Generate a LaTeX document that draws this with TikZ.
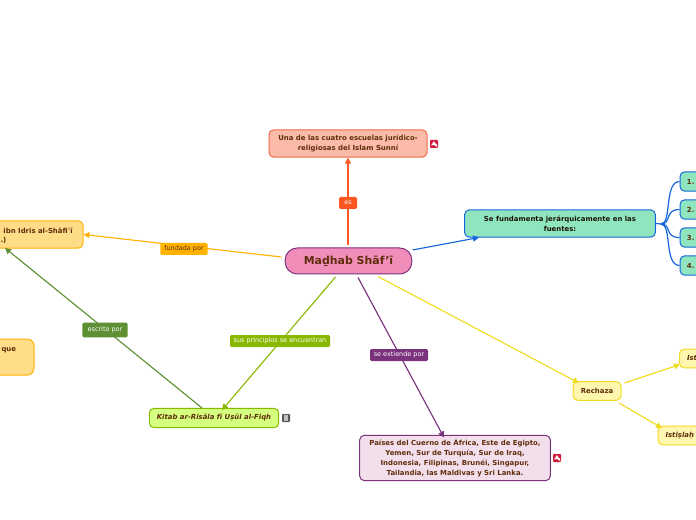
\documentclass[tikz,border=0pt]{standalone}
\usepackage{fontspec}
\setmainfont{DejaVu Sans}
\usetikzlibrary{arrows.meta}
\definecolor{orangeln}{RGB}{255,87,34}
\definecolor{amberln}{RGB}{255,179,0}
\definecolor{greenln}{RGB}{94,143,50}
\definecolor{limeln}{RGB}{137,184,0}
\definecolor{purpleln}{RGB}{123,50,125}
\definecolor{yellowln}{RGB}{240,220,30}
\definecolor{blueln}{RGB}{21,101,220}
\definecolor{brownfg}{RGB}{95,45,10}
\definecolor{mintbg}{RGB}{143,230,190}
\definecolor{amberbg}{RGB}{255,220,135}
\definecolor{yellowbg}{RGB}{255,247,175}
\definecolor{flagred}{RGB}{210,25,60}
\tikzset{every picture/.style={line width=0.75pt}}
\tikzset{
  topic/.style={rounded corners=3.5pt,draw,line width=0.75pt,align=center,inner sep=0pt,font=\bfseries\fontsize{5.2}{7.4}\selectfont,text=brownfg},
  itopic/.style={topic,font=\bfseries\itshape\fontsize{5.2}{7}\selectfont},
  source/.style={topic,draw=blueln,fill=mintbg,minimum width=22pt,minimum height=14.5pt,anchor=west},
  rest/.style={inner sep=0pt,font=\bfseries\fontsize{5.2}{7}\selectfont,text=brownfg,anchor=west},
  tag/.style={rounded corners=1pt,inner sep=0pt,minimum height=9pt,font=\fontsize{4.85}{6}\selectfont},
  flag/.style={rounded corners=0.6pt,minimum width=6pt,minimum height=6pt,inner sep=0pt},
  link/.style={line width=0.85pt,-{Triangle[length=4.5pt,width=4.5pt]}},
  fork/.style={line width=0.9pt,blueln}
}
\begin{document}
\begin{tikzpicture}[x=0.75pt,y=0.75pt,yscale=-1,xscale=1]
\path[use as bounding box] (0,0) rectangle (696,520);
\clip (0,0) rectangle (696,520);

% Text Node
\node (main) [topic,draw=purpleln,fill={rgb,255:red,240;green,141;blue,185},minimum width=95pt,minimum height=19.5pt,rounded corners=9pt,font=\bfseries\fontsize{8.2}{10}\selectfont] at (348.5,261) {Maḏhab Shāf'ī};
% Text Node
\node (escuela) [topic,draw={rgb,255:red,240;green,105;blue,74},fill={rgb,255:red,251;green,187;blue,168},minimum width=118.5pt,minimum height=20.5pt] at (348,143.5) {Una de las cuatro escuelas jurídico-\\religiosas del Islam Sunní};
% Text Node
\node (fuentes) [topic,draw=blueln,fill=mintbg,minimum width=143pt,minimum height=20.5pt,text=black!85!brown] at (560,223.5) {Se fundamenta jerárquicamente en las\\fuentes:};
% Text Node
\node (f1) [source] at (679.5,181.5) {\hspace{-6pt}1.};
\node (f2) [source] at (679.5,209.5) {\hspace{-6pt}2.};
\node (f3) [source] at (679.5,237.5) {\hspace{-6pt}3.};
\node (f4) [source] at (679.5,265.5) {\hspace{-6pt}4.};
% Text Node
\node (imam) [topic,draw=amberln,fill=amberbg,minimum width=75pt,minimum height=20.5pt,anchor=east] at (83.5,234.5) {};
\node (imamA) [rest] at (3,230.5) {ibn Idris al-Shāfiʿī};
\node (imamB) [rest] at (0,240) {.)};
% Text Node
\node (obra) [topic,draw=amberln,fill=amberbg,rounded corners=5pt,minimum width=50pt,minimum height=27pt,anchor=east] at (34.5,357) {};
\node (obraA) [rest] at (1,350) {que};
% Text Node
\node (kitab) [itopic,draw=limeln,fill={rgb,255:red,212;green,255;blue,127},minimum width=97pt,minimum height=14.5pt] at (214,418) {Kitab ar-Risāla fī Uṣūl al-Fiqh};
% Text Node
\node (paises) [topic,draw=purpleln,fill={rgb,255:red,243;green,223;blue,236},minimum width=143pt,minimum height=34pt] at (455,458) {Países del Cuerno de África, Este de Egipto,\\Yemen, Sur de Turquía, Sur de Iraq,\\Indonesia, Filipinas, Brunéi, Singapur,\\Tailandia, las Maldivas y Sri Lanka.};
% Text Node
\node (rechaza) [topic,draw=yellowln,fill=yellowbg,minimum width=36pt,minimum height=14pt] at (597,391) {Rechaza};
\node (isti) [itopic,draw=yellowln,fill=yellowbg,minimum width=30pt,minimum height=14pt,anchor=west] at (679,358.5) {};
\node (istiA) [rest,font=\bfseries\itshape\fontsize{5.2}{7}\selectfont] at (686.5,358.5) {Ist};
\node (istislah) [itopic,draw=yellowln,fill=yellowbg,minimum width=50pt,minimum height=14pt,anchor=west] at (657.5,435.5) {};
\node (istislahA) [rest,font=\bfseries\itshape\fontsize{5.2}{7}\selectfont] at (665,435.5) {Istiṣlaḥ};

% free ends of the connectors
\coordinate (mainT) at (348,245);
\coordinate (mainR) at (412.5,250);
\coordinate (mainL) at (281.5,257);
\coordinate (mainB1) at (335.5,277);
\coordinate (mainB2) at (358,277.5);
\coordinate (mainB3) at (378,276.5);
\coordinate (fuentesB) at (479,237.5);
\coordinate (kitabT) at (222,410);
\coordinate (kitabT2) at (202,408);
\coordinate (paisesT) at (444,437.5);
\coordinate (rechazaT) at (579,383);
\coordinate (rechazaR) at (624.5,383);
\coordinate (rechazaB) at (619,403);
\coordinate (imamS) at (5,248);
\coordinate (istiL) at (680,364.5);
\coordinate (istislahT) at (662,428);
\coordinate (forkC) at (661,224);

% Straight Lines
\draw [link,orangeln] (mainT) -- (escuela.south);
\draw [link,blueln] (mainR) -- (fuentesB);
\draw [link,amberln] (mainL) -- (imam.east);
\draw [link,limeln] (mainB1) -- (kitabT);
\draw [link,purpleln] (mainB2) -- (paisesT);
\draw [link,yellowln] (mainB3) -- (rechazaT);
\draw [link,greenln] (kitabT2) -- (imamS);
\draw [link,yellowln] (rechazaR) -- (istiL);
\draw [link,yellowln] (rechazaB) -- (istislahT);
\draw [fork] (fuentes.east) -- (forkC);
\foreach \n in {f1,f2,f3,f4}
  \draw [fork] (forkC) .. controls (672,224) and (664,0|-\n.west) .. (\n.west);

% Link labels
\node (es) [tag,fill=orangeln,text=white,minimum width=13.5pt] at (348,203) {es};
\node (fundada) [tag,fill=amberln,text=brownfg,minimum width=35.5pt] at (184,249) {fundada por};
\node (escrito) [tag,fill=greenln,text=white,minimum width=34pt,minimum height=11pt] at (105,330) {escrito por};
\node (principios) [tag,fill=limeln,text=white,minimum width=75pt] at (280,341) {sus principios se encuentran};
\node (extiende) [tag,fill=purpleln,text=white,minimum width=43.5pt] at (399,355) {se extiende por};

% Flags
\node (flagA) [flag,fill=flagred] at (434,144) {};
\node (flagB) [flag,fill=black!65] at (286,418) {};
\node (flagC) [flag,fill=flagred] at (557,458) {};
\foreach \n in {flagA,flagC}
  \fill [white,shift={(\n)}] (-3,1.5) -- (0,-3) -- (1,-1) -- (3,1) -- (3,3) -- (0,1) -- cycle;
\fill [black!25,shift={(flagB)}] (-2,-3) rectangle (2,3);
\end{tikzpicture}
\end{document}
